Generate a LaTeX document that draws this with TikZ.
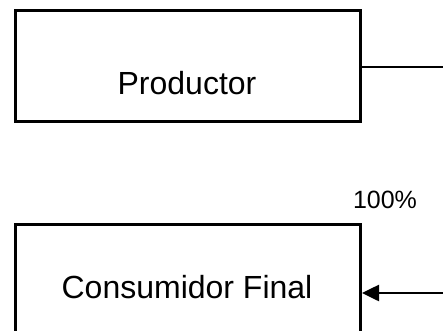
\documentclass[tikz,border=0pt]{standalone}
\usepackage{fontspec}
\setmainfont{Liberation Sans}
\usetikzlibrary{arrows.meta}
\begin{document}
\begin{tikzpicture}[x=1pt,y=1pt,
  box/.style={draw,line width=3pt,minimum width=345pt,inner sep=0pt,anchor=north west},
  lbl/.style={font=\fontsize{32}{36}\selectfont},
  conn/.style={line width=2.6pt}]
\useasboundingbox (0,0) rectangle (443,330);
\clip (0,0) rectangle (443,330);
\node[box,minimum height=111pt] (prod) at (14,321) {};
\node[lbl,anchor=base] (prodt) at (187,236) {Productor};
\node[box,minimum height=140pt] (cons) at (14,107) {};
\node[lbl,anchor=base] (const) at (187,32) {Consumidor Final};
\node[font=\fontsize{25}{28}\selectfont,anchor=base] (pct) at (385,122) {100\%};
\coordinate (r1) at (443,263);
\coordinate (r2) at (443,37);
\draw[conn] (prod.east |- r1) -- (r1);
\draw[conn,-{Triangle[length=17pt,width=16pt]}] (r2) -- (cons.east |- r2);
\end{tikzpicture}
\end{document}
